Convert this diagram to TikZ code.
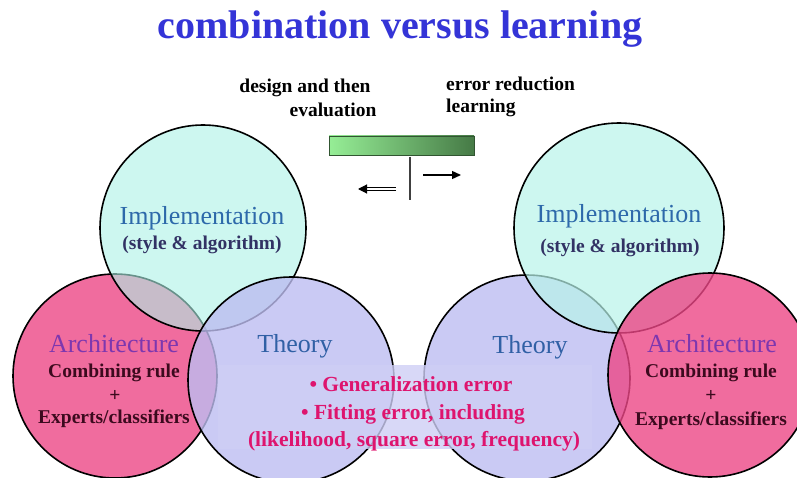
\documentclass[tikz,border=0pt]{standalone}
\usepackage{fontspec}
\setmainfont{Liberation Serif}
\usetikzlibrary{arrows.meta}
\definecolor{titleblue}{RGB}{52,52,215}
\definecolor{implfillA}{RGB}{172,242,230}
\definecolor{implfillB}{RGB}{184,244,234}
\definecolor{archfill}{RGB}{240,108,158}
\definecolor{archfillB}{RGB}{236,71,134}
\definecolor{theofill}{RGB}{202,202,244}
\definecolor{theofillB}{RGB}{189,189,241}
\definecolor{boxfill}{RGB}{206,206,245}
\definecolor{impltext}{RGB}{45,105,170}
\definecolor{substyle}{RGB}{50,50,100}
\definecolor{archtext}{RGB}{125,55,175}
\definecolor{ruletext}{RGB}{60,10,30}
\definecolor{theotext}{RGB}{48,96,165}
\definecolor{magtext}{RGB}{222,20,110}
\definecolor{barlight}{RGB}{150,238,150}
\definecolor{bardark}{RGB}{70,122,70}
\tikzset{
  circ/.style={draw=black, line width=1.6pt},
  bigname/.style={font=\fontsize{26}{28}\selectfont, anchor=base, inner sep=0pt},
  boldlab/.style={font=\bfseries\fontsize{19.5}{22}\selectfont, anchor=base, inner sep=0pt},
  maglab/.style={font=\bfseries\fontsize{21.5}{24}\selectfont, anchor=base, inner sep=0pt, text=magtext},
}
\begin{document}
\begin{tikzpicture}[x=1pt,y=-1pt]
\path[use as bounding box] (0,0) rectangle (797,478);
\clip (0,0) rectangle (797,478);
% title
\node[font=\bfseries\fontsize{40}{44}\selectfont, text=titleblue, anchor=base, inner sep=0pt] (title) at (400,39) {combination versus learning};
% top labels
\node[boldlab] (design) at (305,93) {design and then};
\node[boldlab] (evalu) at (333,117) {evaluation};
\node[boldlab, anchor=base west] (errred) at (446,91) {error reduction};
\node[boldlab, anchor=base west] (learn) at (446,113) {learning};
% gradient bar
\node[draw=bardark!70!black, line width=0.6pt, left color=barlight, right color=bardark, minimum width=145pt, minimum height=19pt, inner sep=0pt] (bar) at (401.5,145.5) {};
\coordinate (vtop) at (410,157);
\coordinate (vbot) at (410,200);
\draw[line width=1.8pt, black!75] (vtop) -- (vbot);
\coordinate (la1) at (396,189);
\coordinate (la2) at (358,189);
\draw[double=white, double distance=1.6pt, line width=1.1pt, -{Triangle[length=9pt,width=9pt]}] (la1) -- (la2);
\coordinate (ra1) at (423,175);
\coordinate (ra2) at (461,175);
\draw[line width=1.4pt, -{Triangle[length=9pt,width=8pt]}] (ra1) -- (ra2);
% left circles: architecture, implementation, theory
\fill[archfill] (115,376) circle[radius=102];
\draw[circ] (115,376) circle[radius=102];
\fill[implfillA, fill opacity=0.6] (203,228) circle[radius=103];
\draw[circ] (203,228) circle[radius=103];
\fill[theofillB, fill opacity=0.8] (291,380) circle[radius=103];
\draw[circ] (291,380) circle[radius=103];
% right circles: theory, implementation, architecture
\fill[theofill] (527,378) circle[radius=103];
\draw[circ] (527,378) circle[radius=103];
\fill[implfillB, fill opacity=0.7] (619,228) circle[radius=105];
\draw[circ] (619,228) circle[radius=105];
\fill[archfillB, fill opacity=0.8] (710,375) circle[radius=102];
\draw[circ] (710,375) circle[radius=102];
% text box
\fill[boxfill, fill opacity=0.8] (218,365) rectangle (592,449);
% left labels
\node[bigname, text=impltext] (limpl) at (202,225) {Implementation};
\node[boldlab, text=substyle] (lsty) at (202,250) {(style \& algorithm)};
\node[bigname, text=archtext] (larch) at (114,352) {Architecture};
\node[boldlab, text=ruletext] (lrule) at (114,377) {Combining rule};
\node[boldlab, text=ruletext] (lplus) at (115,401) {+};
\node[boldlab, text=ruletext] (lexp) at (114,423) {Experts/classifiers};
\node[bigname, text=theotext] (ltheo) at (295,352) {Theory};
% right labels
\node[bigname, text=impltext] (rimpl) at (619,223) {Implementation};
\node[boldlab, text=substyle] (rsty) at (620,252) {(style \& algorithm)};
\node[bigname, text=theotext] (rtheo) at (530,353) {Theory};
\node[bigname, text=archtext] (rarch) at (712,352) {Architecture};
\node[boldlab, text=ruletext] (rrule) at (711,377) {Combining rule};
\node[boldlab, text=ruletext] (rplus) at (711,401) {+};
\node[boldlab, text=ruletext] (rexp) at (711,425) {Experts/classifiers};
% box text
\node[maglab] (gen) at (411,391) {• Generalization error};
\node[maglab] (fit) at (413,419) {• Fitting error, including};
\node[maglab] (lik) at (414,446) {(likelihood, square error, frequency)};
\end{tikzpicture}
\end{document}
